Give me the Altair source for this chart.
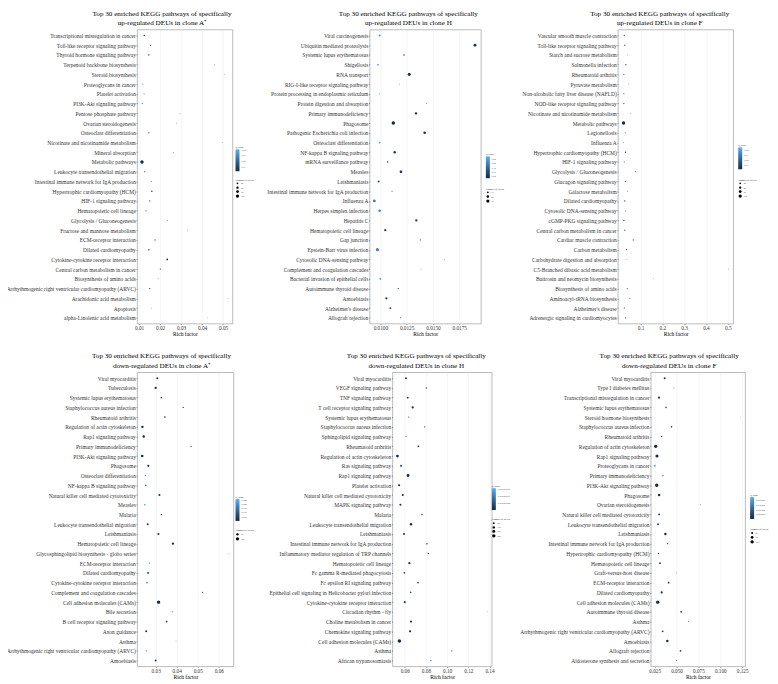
import altair as alt
import pandas as pd

FONT = "Liberation Serif"
LINE1 = "Top 30 enriched KEGG pathways of specifically"

# ---------------- Panel 1: up-regulated, clone A+ ----------------
p1_paths = ["Transcriptional misregulation in cancer", "Toll-like receptor signaling pathway",
            "Thyroid hormone signaling pathway", "Terpenoid backbone biosynthesis", "Steroid biosynthesis",
            "Proteoglycans in cancer", "Platelet activation", "PI3K-Akt signaling pathway",
            "Pentose phosphate pathway", "Ovarian steroidogenesis", "Osteoclast differentiation",
            "Nicotinate and nicotinamide metabolism", "Mineral absorption", "Metabolic pathways",
            "Leukocyte transendothelial migration", "Intestinal immune network for IgA production",
            "Hypertrophic cardiomyopathy (HCM)", "HIF-1 signaling pathway", "Hematopoietic cell lineage",
            "Glycolysis / Gluconeogenesis", "Fructose and mannose metabolism", "ECM-receptor interaction",
            "Dilated cardiomyopathy", "Cytokine-cytokine receptor interaction",
            "Central carbon metabolism in cancer", "Biosynthesis of amino acids",
            "Arrhythmogenic right ventricular cardiomyopathy (ARVC)", "Arachidonic acid metabolism",
            "Apoptosis", "alpha-Linolenic acid metabolism"]
p1_rich = [0.0125, 0.0155, 0.0146, 0.0460, 0.0506, 0.0117, 0.0124, 0.0116, 0.0295, 0.0278,
           0.0147, 0.0498, 0.0264, 0.0114, 0.0127, 0.0158, 0.0161, 0.0151, 0.0133, 0.0234,
           0.0330, 0.0176, 0.0147, 0.0234, 0.0201, 0.0191, 0.0151, 0.0524, 0.0160, 0.0427]
p1_count = [16, 8, 18, 4, 3, 17, 13, 20, 5, 5, 14, 4, 5, 110, 12, 6, 19, 13, 10, 6,
            4, 13, 19, 28, 9, 6, 16, 3, 5, 3]
p1_q = [0.005, 0.012, 0.006, 0.015, 0.018, 0.040, 0.034, 0.038, 0.013, 0.014,
        0.008, 0.016, 0.012, 0.002, 0.010, 0.011, 0.006, 0.009, 0.010, 0.012,
        0.014, 0.008, 0.006, 0.004, 0.009, 0.012, 0.007, 0.016, 0.013, 0.017]

# ---------------- Panel 2: up-regulated, clone H ----------------
p2_paths = ["Viral carcinogenesis", "Ubiquitin mediated proteolysis", "Systemic lupus erythematosus",
            "Shigellosis", "RNA transport", "RIG-I-like receptor signaling pathway",
            "Protein processing in endoplasmic reticulum", "Protein digestion and absorption",
            "Primary immunodeficiency", "Phagosome", "Pathogenic Escherichia coli infection",
            "Osteoclast differentiation", "NF-kappa B signaling pathway", "mRNA surveillance pathway",
            "Measles", "Leishmaniasis", "Intestinal immune network for IgA production", "Influenza A",
            "Herpes simplex infection", "Hepatitis C", "Hematopoietic cell lineage", "Gap junction",
            "Epstein-Barr virus infection", "Cytosolic DNA-sensing pathway",
            "Complement and coagulation cascades", "Bacterial invasion of epithelial cells",
            "Autoimmune thyroid disease", "Amoebiasis", "Alzheimer's disease", "Allograft rejection"]
p2_rich = [0.00993, 0.0190, 0.01225, 0.00978, 0.01275, 0.01183, 0.00993, 0.01437, 0.01339, 0.01123,
           0.01421, 0.00993, 0.01136, 0.01069, 0.01196, 0.00984, 0.01111, 0.00943, 0.00993, 0.01342,
           0.01047, 0.01380, 0.00972, 0.01608, 0.01386, 0.01000, 0.01171, 0.01057, 0.01095, 0.01193]
p2_count = [12, 24, 8, 10, 27, 4, 6, 4, 17, 34, 20, 10, 17, 8, 22, 12, 5, 22, 20, 16,
            15, 5, 28, 3, 4, 12, 7, 15, 11, 5]
p2_q = [0.22, 0.05, 0.08, 0.25, 0.04, 0.10, 0.28, 0.10, 0.05, 0.03,
        0.05, 0.24, 0.05, 0.08, 0.04, 0.09, 0.10, 0.18, 0.20, 0.05,
        0.07, 0.10, 0.20, 0.10, 0.10, 0.22, 0.09, 0.07, 0.08, 0.09]

# ---------------- Panel 3: up-regulated, clone F ----------------
p3_paths = ["Vascular smooth muscle contraction", "Toll-like receptor signaling pathway",
            "Starch and sucrose metabolism", "Salmonella infection", "Rheumatoid arthritis",
            "Pyruvate metabolism", "Non-alcoholic fatty liver disease (NAFLD)",
            "NOD-like receptor signaling pathway", "Nicotinate and nicotinamide metabolism",
            "Metabolic pathways", "Legionellosis", "Influenza A", "Hypertrophic cardiomyopathy (HCM)",
            "HIF-1 signaling pathway", "Glycolysis / Gluconeogenesis", "Glucagon signaling pathway",
            "Galactose metabolism", "Dilated cardiomyopathy", "Cytosolic DNA-sensing pathway",
            "cGMP-PKG signaling pathway", "Central carbon metabolism in cancer",
            "Cardiac muscle contraction", "Carbon metabolism", "Carbohydrate digestion and absorption",
            "C5-Branched dibasic acid metabolism", "Butirosin and neomycin biosynthesis",
            "Biosynthesis of amino acids", "Aminoacyl-tRNA biosynthesis", "Alzheimer's disease",
            "Adrenergic signaling in cardiomyocytes"]
p3_rich = [0.0256, 0.0283, 0.042, 0.033, 0.024, 0.0466, 0.024, 0.024, 0.0557, 0.0224,
           0.030, 0.0224, 0.0315, 0.0256, 0.077, 0.030, 0.042, 0.028, 0.0315, 0.024,
           0.028, 0.067, 0.036, 0.0375, 0.502, 0.158, 0.039, 0.051, 0.0256, 0.0315]
p3_count = [9, 12, 4, 13, 8, 5, 8, 11, 4, 115, 7, 9, 13, 9, 7, 10, 4, 13, 6, 12,
            10, 10, 11, 4, 1, 1, 9, 6, 10, 12]
p3_q = [0.012, 0.010, 0.020, 0.009, 0.014, 0.018, 0.015, 0.011, 0.020, 0.002,
        0.016, 0.045, 0.008, 0.013, 0.016, 0.012, 0.020, 0.008, 0.016, 0.010,
        0.012, 0.012, 0.011, 0.020, 0.022, 0.022, 0.013, 0.016, 0.011, 0.010]

# ---------------- Panel 4: down-regulated, clone A+ ----------------
p4_paths = ["Viral myocarditis", "Tuberculosis", "Systemic lupus erythematosus",
            "Staphylococcus aureus infection", "Rheumatoid arthritis", "Regulation of actin cytoskeleton",
            "Rap1 signaling pathway", "Primary immunodeficiency", "PI3K-Akt signaling pathway",
            "Phagosome", "Osteoclast differentiation", "NF-kappa B signaling pathway",
            "Natural killer cell mediated cytotoxicity", "Measles", "Malaria",
            "Leukocyte transendothelial migration", "Leishmaniasis", "Hematopoietic cell lineage",
            "Glycosphingolipid biosynthesis - globo series", "ECM-receptor interaction",
            "Dilated cardiomyopathy", "Cytokine-cytokine receptor interaction",
            "Complement and coagulation cascades", "Cell adhesion molecules (CAMs)", "Bile secretion",
            "B cell receptor signaling pathway", "Axon guidance", "Asthma",
            "Arrhythmogenic right ventricular cardiomyopathy (ARVC)", "Amoebiasis"]
p4_rich = [0.0308, 0.0300, 0.0327, 0.0431, 0.0344, 0.0237, 0.0243, 0.0468, 0.0236, 0.0265,
           0.0251, 0.0253, 0.0318, 0.0248, 0.0327, 0.0262, 0.0313, 0.0382, 0.0648, 0.0270,
           0.0264, 0.0259, 0.0523, 0.0314, 0.0379, 0.0352, 0.0255, 0.0397, 0.0256, 0.0300]
p4_count = [35, 45, 22, 18, 22, 55, 55, 15, 60, 42, 22, 22, 38, 22, 18, 35, 38, 48, 3, 22,
            32, 30, 12, 110, 8, 30, 35, 6, 22, 32]
p4_q = [0.002, 0.001, 0.004, 0.006, 0.004, 0.001, 0.001, 0.006, 0.001, 0.002,
        0.020, 0.008, 0.002, 0.022, 0.007, 0.003, 0.002, 0.001, 0.010, 0.024,
        0.003, 0.022, 0.009, 0.0005, 0.010, 0.004, 0.003, 0.010, 0.025, 0.003]

# ---------------- Panel 5: down-regulated, clone H ----------------
p5_paths = ["Viral myocarditis", "VEGF signaling pathway", "TNF signaling pathway",
            "T cell receptor signaling pathway", "Systemic lupus erythematosus",
            "Staphylococcus aureus infection", "Sphingolipid signaling pathway", "Rheumatoid arthritis",
            "Regulation of actin cytoskeleton", "Ras signaling pathway", "Rap1 signaling pathway",
            "Platelet activation", "Natural killer cell mediated cytotoxicity", "MAPK signaling pathway",
            "Malaria", "Leukocyte transendothelial migration", "Leishmaniasis",
            "Intestinal immune network for IgA production",
            "Inflammatory mediator regulation of TRP channels", "Hematopoietic cell lineage",
            "Fc gamma R-mediated phagocytosis", "Fc epsilon RI signaling pathway",
            "Epithelial cell signaling in Helicobacter pylori infection",
            "Cytokine-cytokine receptor interaction", "Circadian rhythm - fly",
            "Choline metabolism in cancer", "Chemokine signaling pathway",
            "Cell adhesion molecules (CAMs)", "Asthma", "African trypanosomiasis"]
p5_rich = [0.0612, 0.0803, 0.0628, 0.0675, 0.0637, 0.0788, 0.0612, 0.0728, 0.0531, 0.0565,
           0.0631, 0.0547, 0.0581, 0.0559, 0.0762, 0.0659, 0.0593, 0.0809, 0.0822, 0.0644,
           0.0596, 0.0725, 0.0656, 0.0600, 0.1379, 0.0659, 0.0650, 0.0549, 0.1044, 0.0847]
p5_count = [70, 35, 60, 90, 40, 30, 40, 55, 130, 80, 150, 80, 75, 75, 30, 100, 70, 35, 40, 85,
            45, 45, 40, 70, 5, 75, 85, 210, 25, 25]
p5_q = [2e-9, 4e-9, 2e-9, 1e-9, 1.4e-8, 4e-9, 1.5e-8, 2e-9, 5e-10, 6e-9,
        5e-10, 1e-9, 1e-9, 2e-9, 4e-9, 5e-10, 1e-9, 4e-9, 4e-9, 1e-9,
        2e-9, 2e-9, 3e-9, 2e-9, 8e-9, 1e-9, 1e-9, 2e-10, 5e-9, 5e-9]

# ---------------- Panel 6: down-regulated, clone F ----------------
p6_paths = ["Viral myocarditis", "Type I diabetes mellitus", "Transcriptional misregulation in cancer",
            "Systemic lupus erythematosus", "Steroid hormone biosynthesis",
            "Staphylococcus aureus infection", "Rheumatoid arthritis", "Regulation of actin cytoskeleton",
            "Rap1 signaling pathway", "Proteoglycans in cancer", "Primary immunodeficiency",
            "PI3K-Akt signaling pathway", "Phagosome", "Ovarian steroidogenesis",
            "Natural killer cell mediated cytotoxicity", "Leukocyte transendothelial migration",
            "Leishmaniasis", "Intestinal immune network for IgA production",
            "Hypertrophic cardiomyopathy (HCM)", "Hematopoietic cell lineage", "Graft-versus-host disease",
            "ECM-receptor interaction", "Dilated cardiomyopathy", "Cell adhesion molecules (CAMs)",
            "Autoimmune thyroid disease", "Asthma",
            "Arrhythmogenic right ventricular cardiomyopathy (ARVC)", "Amoebiasis", "Allograft rejection",
            "Aldosterone synthesis and secretion"]
p6_rich = [0.0364, 0.0470, 0.0299, 0.0379, 0.1235, 0.0443, 0.0330, 0.0261, 0.0276, 0.0250,
           0.0344, 0.0273, 0.0300, 0.0770, 0.0300, 0.0288, 0.0372, 0.0398, 0.0292, 0.0310,
           0.0497, 0.0409, 0.0330, 0.0284, 0.0553, 0.0636, 0.0341, 0.0394, 0.0545, 0.0497]
p6_count = [50, 30, 55, 40, 27, 40, 38, 100, 90, 60, 35, 105, 70, 30, 45, 45, 65, 35, 35, 45,
            28, 45, 55, 100, 45, 30, 45, 65, 45, 30]
p6_q = [1e-6, 2e-6, 1e-6, 2e-6, 4e-6, 2e-6, 2e-6, 3e-7, 5e-7, 9e-6,
        3e-6, 3e-7, 5e-7, 4e-6, 1e-6, 1e-6, 5e-7, 2e-6, 2e-6, 1e-6,
        3e-6, 1e-6, 1e-6, 2e-7, 1e-6, 3e-6, 1e-6, 5e-7, 1e-6, 2e-6]

PLOT_H = 296


def panel(paths, rich, counts, qvals, line2, width, xdom, xvals, xfmt, size_vals,
          title_dx, leg_x, qleg_y, sleg_y):
    df = pd.DataFrame({"Pathway": paths, "Rich factor": rich,
                       "Number of DEUs": counts, "Q value": qvals})
    return alt.Chart(df).mark_circle(opacity=1).encode(
        x=alt.X("Rich factor:Q",
                scale=alt.Scale(domain=xdom, nice=False, zero=False),
                axis=alt.Axis(values=xvals, format=xfmt, title="Rich factor")),
        y=alt.Y("Pathway:N", sort=paths,
                scale=alt.Scale(type="point", padding=0.6),
                axis=alt.Axis(title=None)),
        size=alt.Size("Number of DEUs:Q",
                      scale=alt.Scale(zero=False, range=[0.5, 12]),
                      legend=alt.Legend(values=size_vals, orient="none", legendX=leg_x,
                                        legendY=sleg_y, direction="vertical")),
        color=alt.Color("Q value:Q",
                        scale=alt.Scale(range=["#132B43", "#56B1F7"], zero=False, nice=False),
                        legend=alt.Legend(orient="none", legendX=leg_x, legendY=qleg_y,
                                          direction="vertical", tickCount=4)),
    ).properties(
        width=width, height=PLOT_H,
        title=alt.TitleParams(text=[LINE1, line2], font=FONT, fontSize=7.2, fontWeight="normal",
                              color="black", anchor="middle", frame="group", dx=title_dx,
                              offset=3.4, lineHeight=9.5),
    )


c1 = panel(p1_paths, p1_rich, p1_count, p1_q, "up-regulated DEUs in clone A\u207a", 96,
           [0.0091, 0.0545], [0.01, 0.02, 0.03, 0.04, 0.05], ".2f", [25, 50, 75, 100],
           -23, 99, 117, 150)
c2 = panel(p2_paths, p2_rich, p2_count, p2_q, "up-regulated DEUs in clone H", 112,
           [0.00898, 0.01956], [0.01, 0.0125, 0.015, 0.0175], ".4f", [10, 20, 30],
           -17, 117, 124, 159)
c3 = panel(p3_paths, p3_rich, p3_count, p3_q, "up-regulated DEUs in clone F", 116,
           [-0.003, 0.525], [0.1, 0.2, 0.3, 0.4, 0.5], ".1f", [25, 50, 75, 100],
           -16, 121, 115, 150)
c4 = panel(p4_paths, p4_rich, p4_count, p4_q, "down-regulated DEUs in clone A\u207a", 97,
           [0.0212, 0.0670], [0.03, 0.04, 0.05, 0.06], ".2f", [50, 100],
           -24, 99, 124, 158)
c5 = panel(p5_paths, p5_rich, p5_count, p5_q, "down-regulated DEUs in clone H", 100,
           [0.0484, 0.1422], [0.06, 0.08, 0.10, 0.12, 0.14], ".2f", [50, 100, 150, 200],
           -26, 100, 113, 147)
c6 = panel(p6_paths, p6_rich, p6_count, p6_q, "down-regulated DEUs in clone F", 95,
           [0.0205, 0.1284], [0.025, 0.05, 0.075, 0.1, 0.125], ".3f", [50, 75, 100],
           -29, 100, 122, 157)

indep = dict(x="independent", y="independent", color="independent", size="independent")
top = alt.hconcat(c1, c2, c3, spacing=138, bounds="flush").resolve_scale(**indep)
bottom = alt.hconcat(c4, c5, c6, spacing=160, bounds="flush").resolve_scale(**indep)

chart = alt.vconcat(top, bottom, spacing=13).resolve_scale(**indep).properties(
    padding={"left": -3, "top": -1.5, "right": 0, "bottom": 0}, background="white"
).configure(font=FONT).configure_view(
    stroke="#9e9e9e", strokeWidth=0.7
).configure_axis(
    labelFont=FONT, labelFontSize=5.5, labelColor="#333333", tickColor="#333333",
    tickSize=1, tickWidth=0.5, domain=False, gridColor="#ebebeb", gridWidth=0.5,
    titleFont=FONT, titleFontSize=5.6, titleFontWeight="normal", titleColor="black",
    titlePadding=1, labelPadding=0.8,
).configure_axisX(labelFontSize=5.3).configure_legend(
    titleFont=FONT, titleFontSize=2.6, titleFontWeight="normal", titleColor="black",
    labelFont=FONT, labelFontSize=2.4, labelColor="#333333",
    gradientLength=22, gradientThickness=4, symbolType="circle", symbolFillColor="black",
    symbolStrokeWidth=0, rowPadding=1, titlePadding=1, labelOffset=1.5, padding=0,
    gradientStrokeWidth=0,
)

chart.save("out.html", embed_options={"renderer": "svg", "actions": False})
